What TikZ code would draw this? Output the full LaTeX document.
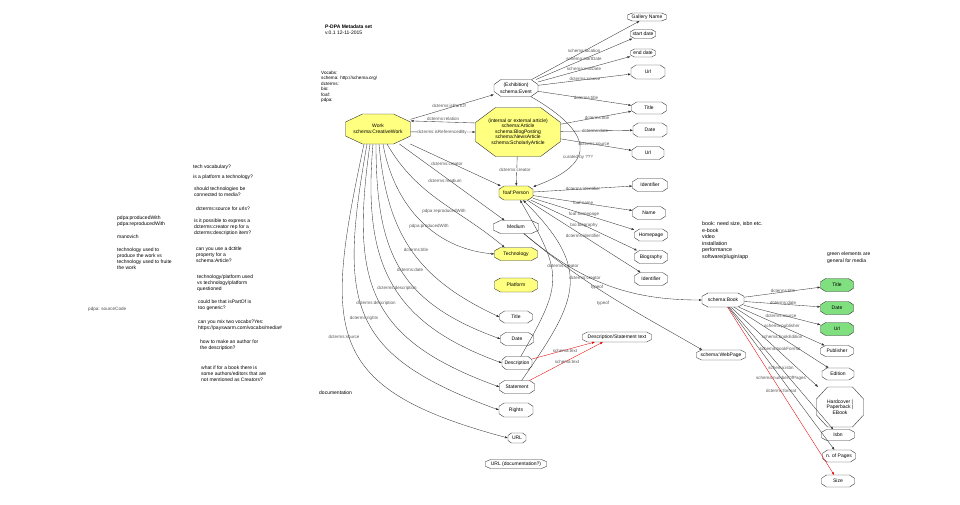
\documentclass[tikz,border=0pt]{standalone}
\usepackage{fontspec}
\setmainfont{Liberation Sans}
\usetikzlibrary{arrows.meta}
\definecolor{nodeyellow}{RGB}{255,255,128}
\definecolor{nodegreen}{RGB}{128,224,128}
\definecolor{labelgray}{RGB}{85,85,85}

% octagon as drawn by graphviz: a rectangle with cut corners
\makeatletter
\pgfkeys{/pgf/octo x/.initial=5pt,/pgf/octo y/.initial=3.3pt}
\pgfdeclareshape{octobox}{%
  \inheritsavedanchors[from=rectangle]%
  \inheritanchorborder[from=rectangle]%
  \inheritanchor[from=rectangle]{center}%
  \inheritanchor[from=rectangle]{text}%
  \inheritanchor[from=rectangle]{north}%
  \inheritanchor[from=rectangle]{south}%
  \inheritanchor[from=rectangle]{east}%
  \inheritanchor[from=rectangle]{west}%
  \inheritanchor[from=rectangle]{north east}%
  \inheritanchor[from=rectangle]{north west}%
  \inheritanchor[from=rectangle]{south east}%
  \inheritanchor[from=rectangle]{south west}%
  \backgroundpath{%
    \pgf@xc=\pgfkeysvalueof{/pgf/octo x}\relax
    \pgf@yc=\pgfkeysvalueof{/pgf/octo y}\relax
    \southwest \pgf@xa=\pgf@x \pgf@ya=\pgf@y
    \northeast \pgf@xb=\pgf@x \pgf@yb=\pgf@y
    \pgfpathmoveto{\pgfqpoint{\dimexpr\pgf@xa+\pgf@xc\relax}{\pgf@ya}}%
    \pgfpathlineto{\pgfqpoint{\dimexpr\pgf@xb-\pgf@xc\relax}{\pgf@ya}}%
    \pgfpathlineto{\pgfqpoint{\pgf@xb}{\dimexpr\pgf@ya+\pgf@yc\relax}}%
    \pgfpathlineto{\pgfqpoint{\pgf@xb}{\dimexpr\pgf@yb-\pgf@yc\relax}}%
    \pgfpathlineto{\pgfqpoint{\dimexpr\pgf@xb-\pgf@xc\relax}{\pgf@yb}}%
    \pgfpathlineto{\pgfqpoint{\dimexpr\pgf@xa+\pgf@xc\relax}{\pgf@yb}}%
    \pgfpathlineto{\pgfqpoint{\pgf@xa}{\dimexpr\pgf@yb-\pgf@yc\relax}}%
    \pgfpathlineto{\pgfqpoint{\pgf@xa}{\dimexpr\pgf@ya+\pgf@yc\relax}}%
    \pgfpathclose
  }%
}
\makeatother

\begin{document}
\begin{tikzpicture}[x=1pt,y=-1pt]
\tikzstyle{oct}=[shape=octobox,draw=black!80,line width=0.4pt,outer sep=0pt,inner sep=0.5pt,minimum width=33pt,minimum height=13pt,font=\fontsize{5}{6}\selectfont,align=center]
\tikzstyle{yel}=[oct,fill=nodeyellow]
\tikzstyle{grn}=[oct,fill=nodegreen]
\tikzstyle{link}=[draw=black!80,line width=0.35pt,-{Latex[length=3pt,width=2.2pt]}]
\tikzstyle{redlink}=[link,draw=red!90!black]
\tikzstyle{lbl}=[font=\fontsize{4.5}{5}\selectfont,text=labelgray,inner sep=0.3pt]
\tikzstyle{note}=[font=\fontsize{5}{6}\selectfont,align=left,anchor=north west,inner sep=0pt]
\useasboundingbox (0,0) rectangle (960,504);

% notes
\node[note] (head) at (325,24.7) {\textbf{P-DPA Metadata set}\\v.0.1 12-11-2015};
\node[note,font=\fontsize{4.6}{5.4}\selectfont] (vocabs) at (321,70.9) {Vocabs:\\schema: http://schema.org/\\dcterms:\\bio:\\foaf:\\pdpa:};
\node[note] (docu) at (319,390.7) {documentation};
\node[note] (q1) at (193,164.7) {tech vocabulary?};
\node[note] (q2) at (193,174.7) {is a platform a technology?};
\node[note] (q3) at (194,186.7) {should technologies be\\connected to media?};
\node[note] (q4) at (196,206.7) {dcterms:source for urls?};
\node[note] (q5) at (194,218.7) {is it possible to express a\\dcterms:creator rep for a\\dcterms:description item?};
\node[note] (q6) at (196,246.7) {can you use a dctitle\\property for a\\schema:Article?};
\node[note] (q7) at (197,274.7) {technology/platform used\\vs technology/platform\\questioned};
\node[note] (q8) at (198,299.7) {could be that isPartOf is\\too generic?};
\node[note] (q9) at (198,319.7) {can you mix two vocabs?Yes:\\https://payswarm.com/vocabs/media\#};
\node[note] (q10) at (200,339.7) {how to make an author for\\the description?};
\node[note] (q11) at (201,365.7) {what if for a book there is\\some authors/editors that are\\not mentioned as Creators?};
\node[note] (n1) at (117,215.7) {pdpa:producedWith\\pdpa:reproducedWith};
\node[note] (n2) at (117,234.7) {manovich};
\node[note] (n3) at (117,247.7) {technology used to\\produce the work vs\\technology used to fruite\\the work};
\node[note,font=\fontsize{4.6}{5}\selectfont,text=black!70] (n4) at (88,306.9) {pdpa: sourceCode};
\node[note,font=\fontsize{5.3}{6.5}\selectfont] (media) at (702,221.5) {book: need size, isbn etc.\\e-book\\video\\installation\\performance\\software/plugin/app};
\node[note,font=\fontsize{5}{6.8}\selectfont] (green) at (827,251.7) {green elements are\\general for media};

% event
\node[oct,minimum width=44pt,minimum height=17pt,octo x=7pt,octo y=5pt,font=\fontsize{5}{6.8}\selectfont] (ev) at (516,88) {(Exhibition)\\schema:Event};
\node[oct,minimum width=39pt,minimum height=8pt,octo y=2pt] (gal) at (647,17) {Gallery Name};
\node[oct,minimum width=25pt,minimum height=9pt,octo x=4pt,octo y=2.2pt] (sdate) at (643,34) {start date};
\node[oct,minimum width=25pt,minimum height=8pt,octo x=4pt,octo y=2pt] (edate) at (643,53) {end date};
\node[oct,minimum width=34pt,minimum height=14pt] (evurl) at (648,72) {Url};
\node[oct,minimum width=35pt,minimum height=12pt] (title) at (649,108) {Title};

% work and article
\node[yel,minimum width=65pt,minimum height=30pt,octo x=17pt,octo y=8pt] (work) at (378,129) {Work\\schema:CreativeWork};
\node[yel,minimum width=85pt,minimum height=49pt,octo x=20pt,octo y=15pt,font=\fontsize{5}{5.5}\selectfont] (art) at (518,132) {(internal or external article)\\schema:Article\\schema:BlogPosting\\schema:NewsArticle\\schema:ScholarlyArticle};
\node[oct,minimum width=34pt,minimum height=14pt] (artdate) at (650,130) {Date};
\node[oct,minimum width=32pt] (arturl) at (648,153) {Url};

% person
\node[yel,minimum width=34pt,minimum height=14pt] (person) at (516,193) {foaf:Person};
\node[oct,minimum width=35pt] (pid) at (650,185) {Identifier};
\node[oct] (pname) at (649,213) {Name};
\node[oct,minimum height=12pt] (phome) at (651,235) {Homepage};
\node[oct] (pbio) at (651,257) {Biography};
\node[oct] (pid2) at (651,279) {Identifier};

% column below the work
\node[oct,minimum width=45pt,octo x=7pt] (medium) at (516,227) {Medium};
\node[yel,minimum width=43pt,octo x=6pt] (tech) at (516,254) {Technology};
\node[yel,minimum width=43pt,minimum height=14pt,octo x=6pt] (platform) at (516,285) {Platform};
\node[oct,minimum height=12pt] (wtitle) at (516,317) {Title};
\node[oct] (wdate) at (517,339) {Date};
\node[oct,minimum width=30pt,octo x=4pt] (desc) at (517,363) {Description};
\node[oct,minimum width=35pt] (stmt) at (517,387) {Statement};
\node[oct,minimum width=34pt,minimum height=14pt] (rights) at (516,410) {Rights};
\node[oct,minimum width=18pt,minimum height=10pt,octo x=3.5pt,octo y=2.5pt] (wurl) at (517,438) {URL};
\node[oct,minimum width=61pt,minimum height=9pt,octo x=5pt,octo y=2.2pt] (docurl) at (516,464) {URL (documentation?)};
\node[oct,minimum width=69pt,minimum height=10pt,octo x=5pt,octo y=2.5pt] (dstext) at (617,337) {Description/Statement text};

% book
\node[oct,minimum width=42pt,minimum height=14pt,octo x=6pt] (book) at (723,300) {schema:Book};
\node[oct,minimum width=49pt,minimum height=10pt,octo x=5pt,octo y=2.5pt] (webpage) at (721,355) {schema:WebPage};
\node[grn] (btitle) at (837,285) {Title};
\node[grn] (bdate) at (837,308) {Date};
\node[grn] (burl) at (837,329) {Url};
\node[oct,minimum height=11pt,octo y=2.8pt] (pub) at (837,351) {Publisher};
\node[oct,minimum width=32pt,minimum height=12pt] (edition) at (838,374) {Edition};
\node[oct,minimum width=47pt,minimum height=40pt,octo x=11pt,octo y=12pt,font=\fontsize{5}{5.5}\selectfont] (format) at (840,407) {Hardcover |\\Paperback |\\EBook};
\node[oct,minimum height=11pt,octo y=2.8pt] (isbn) at (838,435) {Isbn};
\node[oct,minimum height=12pt] (pages) at (839,456) {n. of Pages};
\node[oct,minimum height=12pt] (size) at (838,481) {Size};

% event links
\draw[link] (ev) -- (gal);
\draw[link] (ev) -- (sdate);
\draw[link] (ev) -- (edate);
\draw[link] (ev) -- (evurl);
\draw[link] (ev) -- (title);
\draw[link] (ev) to[out=-30,in=20,looseness=2] (person);
\node[lbl] (l-loc) at (584,51) {schema:location};
\node[lbl] (l-start) at (584,59) {schema:startDate};
\node[lbl] (l-end) at (584,69) {schema:endDate};
\node[lbl] (l-evsrc) at (585,79) {dcterms:source};
\node[lbl] (l-evtitle) at (586,98) {dcterms:title};
\node[lbl] (l-cur) at (578,157) {curated by ???};

% article links
\draw[link] (art) -- (title);
\draw[link] (art) -- (artdate);
\draw[link] (art) -- (arturl);
\draw[link] (art.168) -- (work.14);
\draw[link] (art) -- (person);
\node[lbl] (l-arttitle) at (597,118) {dcterms:title};
\node[lbl] (l-artdate) at (595,131) {dcterms:date};
\node[lbl] (l-artsrc) at (594,144) {dcterms:source};
\node[lbl] (l-rel) at (443,119) {dcterms:relation};
\node[lbl,fill=white] (l-artcr) at (515,170) {dcterms:creator};

% work links
\draw[link] (work) -- (ev);
\draw[link] (work.-5) -- (art.west);
\draw[link] (work) -- (person);
\draw[link] (work.-35) -- (medium.150);
\draw[link] ([xshift=9pt]work.south) to[out=-60,in=140] (tech.150);
\draw[link] ([xshift=5pt]work.south) to[out=-80,in=175] (tech.west);
\draw[link] ([xshift=1pt]work.south) to[out=-85,in=155,looseness=1.1] (wtitle.west);
\draw[link] ([xshift=-2pt]work.south) to[out=-90,in=160,looseness=1.2] (wdate.west);
\draw[link] ([xshift=-5pt]work.south) to[out=-95,in=160,looseness=1.2] (desc.west);
\draw[link] ([xshift=-8pt]work.south) to[out=-98,in=160,looseness=1.3] (stmt.west);
\draw[link] ([xshift=-11pt]work.south) to[out=-100,in=160,looseness=1.4] (rights.west);
\draw[link] ([xshift=-14pt]work.south) to[out=-102,in=165,looseness=1.5] (wurl.west);
\node[lbl] (l-part) at (449,106) {dcterms:isPartOf};
\node[lbl,fill=white] (l-ref) at (442,132) {dcterms:isReferencedBy};
\node[lbl] (l-wcr) at (447,164) {dcterms:creator};
\node[lbl] (l-med) at (445,181) {dcterms:medium};
\node[lbl] (l-repro) at (444,211) {pdpa:reproducedWith};
\node[lbl] (l-prod) at (429,226) {pdpa:producedWith};
\node[lbl] (l-wtitle) at (416,250) {dcterms:title};
\node[lbl] (l-wdate) at (410,270) {dcterms:date};
\node[lbl] (l-wdesc) at (397,288) {dcterms:description};
\node[lbl] (l-wdesc2) at (376,303) {dcterms:description};
\node[lbl] (l-rights) at (364,318) {dcterms:rights};
\node[lbl] (l-wsrc) at (344,337) {dcterms:source};

% person links
\draw[link] (person) -- (pid);
\draw[link] (person) -- (pname);
\draw[link] (person) -- (phome);
\draw[link] (person) -- (pbio);
\draw[link] (person) -- (pid2);
\draw[link] (desc.60) to[out=60,in=-60,looseness=1.4] (person.-60);
\draw[link] (stmt.55) to[out=55,in=-45,looseness=1.4] (person.-45);
\node[lbl] (l-pid) at (583,189) {dcterms:identifier};
\node[lbl] (l-pname) at (583,203) {foaf:name};
\node[lbl] (l-phome) at (584,214) {foaf:homepage};
\node[lbl] (l-pbio) at (584,225) {bio:biography};
\node[lbl] (l-pid2) at (583,236) {dcterms:identifier};
\node[lbl] (l-dcr) at (563,266) {dcterms:creator};
\node[lbl] (l-scr) at (585,278) {dcterms:creator};

% medium and text links
\draw[link] (medium.-40) to[out=-40,in=180] (book.west);
\draw[link] (medium.-40) to[out=-40,in=150] (webpage.165);
\draw[redlink] (desc) -- ([xshift=-22pt]dstext.south);
\draw[redlink] (stmt) -- ([xshift=-14pt]dstext.south);
\node[lbl] (l-tbook) at (597,287) {typeof};
\node[lbl] (l-tweb) at (603,303) {typeof};
\node[lbl] (l-dtext) at (565,351) {schema:text};
\node[lbl] (l-stext) at (567,362) {schema:text};

% book links
\draw[link] (book) -- (btitle);
\draw[link] (book) -- (bdate);
\draw[link] (book) -- (burl);
\draw[link] (book) -- (pub);
\draw[link] (book) -- (edition);
\draw[link] (book) -- (format);
\draw[link] (book) -- (isbn);
\draw[link] (book) -- (pages);
\draw[redlink] (book) -- (size);
\node[lbl] (l-btitle) at (783,291) {dcterms:title};
\node[lbl] (l-bdate) at (783,303) {dcterms:date};
\node[lbl] (l-bsrc) at (781,316) {dcterms:source};
\node[lbl] (l-pub) at (782,326) {schema:publisher};
\node[lbl] (l-edn) at (782,337) {schema:bookEdition};
\node[lbl] (l-fmt) at (780,349) {schema:bookFormat};
\node[lbl] (l-isbn) at (781,368) {schema:isbn};
\node[lbl] (l-pages) at (781,378) {schema:numberOfPages};
\node[lbl] (l-format) at (781,391) {dcterms:format};
\end{tikzpicture}
\end{document}
